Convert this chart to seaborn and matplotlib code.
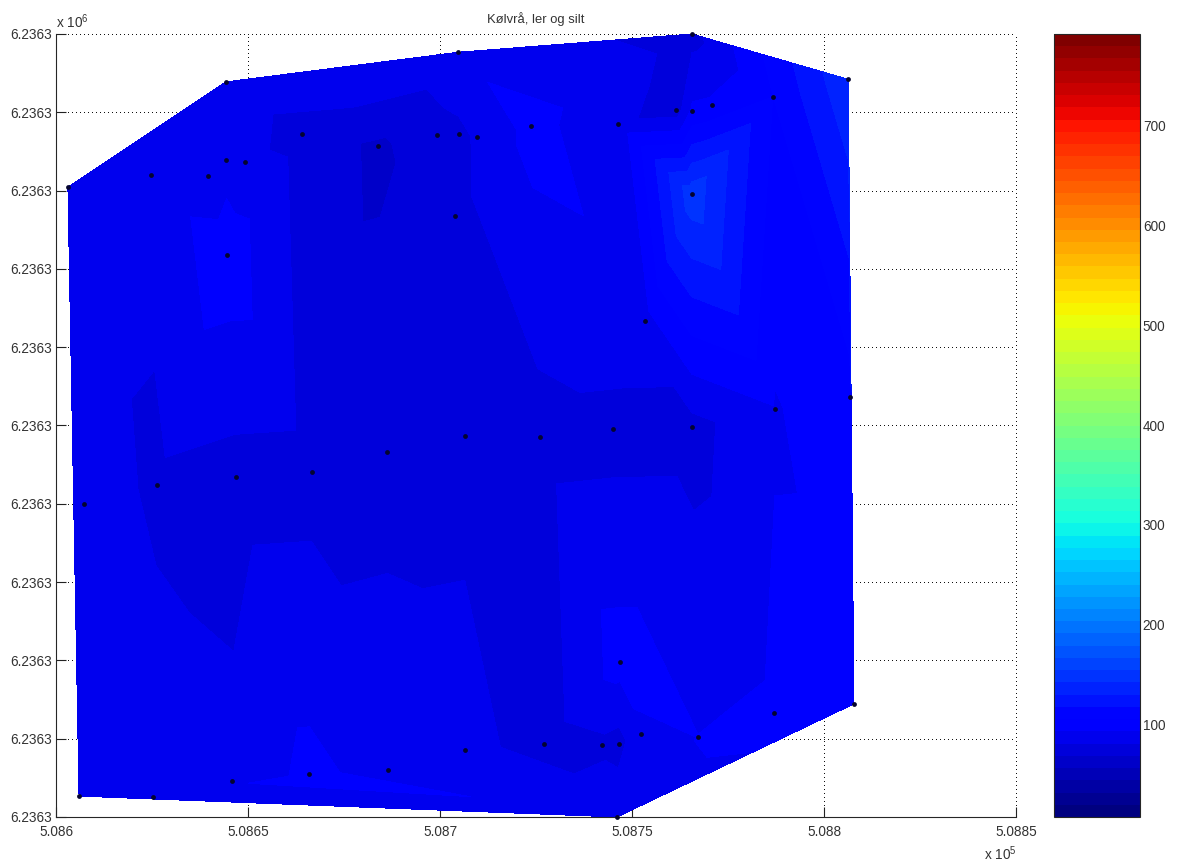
#!/usr/bin/env python3
# -*- coding: utf-8 -*-
import numpy as np
import pandas as pd
import seaborn as sns
import matplotlib.pyplot as plt
from matplotlib.cm import ScalarMappable
from matplotlib.colors import Normalize

# sample positions (easting, northing) and clay/silt value
easting = [508603.1, 508644.3, 508704.7, 508765.6, 508806.3, 508807.8, 508746.1, 508606.0,
           508624.7, 508639.6, 508644.4, 508649.2, 508664.1, 508683.9, 508699.2, 508704.9,
           508709.6, 508723.7, 508746.3, 508761.5, 508765.7, 508770.8, 508786.7, 508765.5,
           508703.9, 508644.5, 508753.4, 508787.2, 508806.8, 508765.6, 508745.0, 508726.0,
           508706.5, 508686.2, 508666.7, 508646.9, 508626.3, 508607.3, 508746.9, 508787.1,
           508752.3, 508767.2, 508746.6, 508742.2, 508727.1, 508706.4, 508686.5, 508665.9,
           508645.8, 508625.3]
northing = [6236327.4, 6236339.5, 6236342.9, 6236345.0, 6236339.8, 6236268.0, 6236255.0, 6236257.4,
            6236328.8, 6236328.7, 6236330.5, 6236330.3, 6236333.5, 6236332.1, 6236333.4, 6236333.5,
            6236333.2, 6236334.4, 6236334.7, 6236336.3, 6236336.2, 6236336.8, 6236337.8, 6236326.6,
            6236324.1, 6236319.6, 6236312.0, 6236301.9, 6236303.3, 6236299.8, 6236299.6, 6236298.7,
            6236298.8, 6236297.0, 6236294.7, 6236294.1, 6236293.2, 6236291.0, 6236272.8, 6236267.0,
            6236264.5, 6236264.2, 6236263.4, 6236263.3, 6236263.4, 6236262.7, 6236260.4, 6236259.9,
            6236259.1, 6236257.3]
ler_silt = [87, 88, 90, 76, 140, 95, 90, 88,
            85, 84, 88, 84, 76, 66, 76, 78,
            82, 97, 84, 74, 95, 95, 105, 150,
            76, 100, 88, 92, 100, 76, 76, 76,
            76, 76, 76, 76, 78, 88, 98, 95,
            90, 93, 76, 78, 74, 86, 88, 96,
            84, 88]

x_ticks = [508600, 508650, 508700, 508750, 508800, 508850]
x_labels = ['5.086', '5.0865', '5.087', '5.0875', '5.088', '5.0885']
y_ticks = [6236255, 6236264, 6236273, 6236282, 6236291, 6236300, 6236309, 6236318, 6236327, 6236336, 6236345]
cbar_ticks = [100, 200, 300, 400, 500, 600, 700]
c_min, c_max = 7, 792

sns.set_style('ticks', {'axes.grid': True, 'grid.color': 'black', 'grid.linestyle': ':'})
plt.rcParams['font.family'] = ['Liberation Sans', 'DejaVu Sans']
plt.rcParams['font.size'] = 9.8
plt.rcParams['mathtext.default'] = 'regular'

df = pd.DataFrame({'easting': easting, 'northing': northing, 'ler_silt': ler_silt})

W, H = 1178, 864
fig = plt.figure(figsize=(W / 100, H / 100), dpi=100)
ax = fig.add_axes([56 / W, 1 - 817 / H, 960 / W, 783 / H])
cax = fig.add_axes([1054 / W, 1 - 817 / H, 86 / W, 783 / H])

jet = plt.get_cmap('jet', 64)
norm = Normalize(c_min, c_max)
levels = np.linspace(c_min, c_max, 65)

ax.tricontourf(df['easting'], df['northing'], df['ler_silt'], levels=levels,
               cmap=jet, norm=norm, antialiased=False)
sns.scatterplot(data=df, x='easting', y='northing', color='#040430', s=12, linewidth=0,
                legend=False, ax=ax, zorder=3, clip_on=False)

ax.set_xlim(x_ticks[0], x_ticks[-1])
ax.set_ylim(y_ticks[0], y_ticks[-1])
ax.set_xticks(x_ticks, x_labels)
ax.set_yticks(y_ticks, ['6.2363'] * len(y_ticks))
ax.set_xlabel('')
ax.set_ylabel('')
ax.set_axisbelow(True)
ax.grid(True, color='#111111', linestyle=(0, (1, 4)), linewidth=0.6)
for line in ax.get_xgridlines() + ax.get_ygridlines():
    line.set_clip_on(False)
    line.set_antialiased(False)
ax.tick_params(direction='in', length=7, width=0.8, color='#222222', labelcolor='#333333')
ax.tick_params(axis='x', pad=6)
ax.tick_params(axis='y', pad=3)
sns.despine(ax=ax)
ax.set_title('Kølvrå, ler og silt', fontsize=9.4, color='#333333', pad=8)

ax.text(0, 1.004, r'x 10$^{6}$', transform=ax.transAxes, ha='left', va='bottom', color='#333333')
ax.text(0.984, -0.035, r'x 10$^{5}$', transform=ax.transAxes, ha='center', va='top', color='#333333')

cbar = fig.colorbar(ScalarMappable(norm=norm, cmap=jet), cax=cax, ticks=cbar_ticks)
cbar.outline.set_linewidth(0.8)
cbar.ax.tick_params(direction='in', length=7, width=0.8, left=True, right=True,
                    labelcolor='#333333', pad=2)

fig.savefig('out.png', dpi=100)
